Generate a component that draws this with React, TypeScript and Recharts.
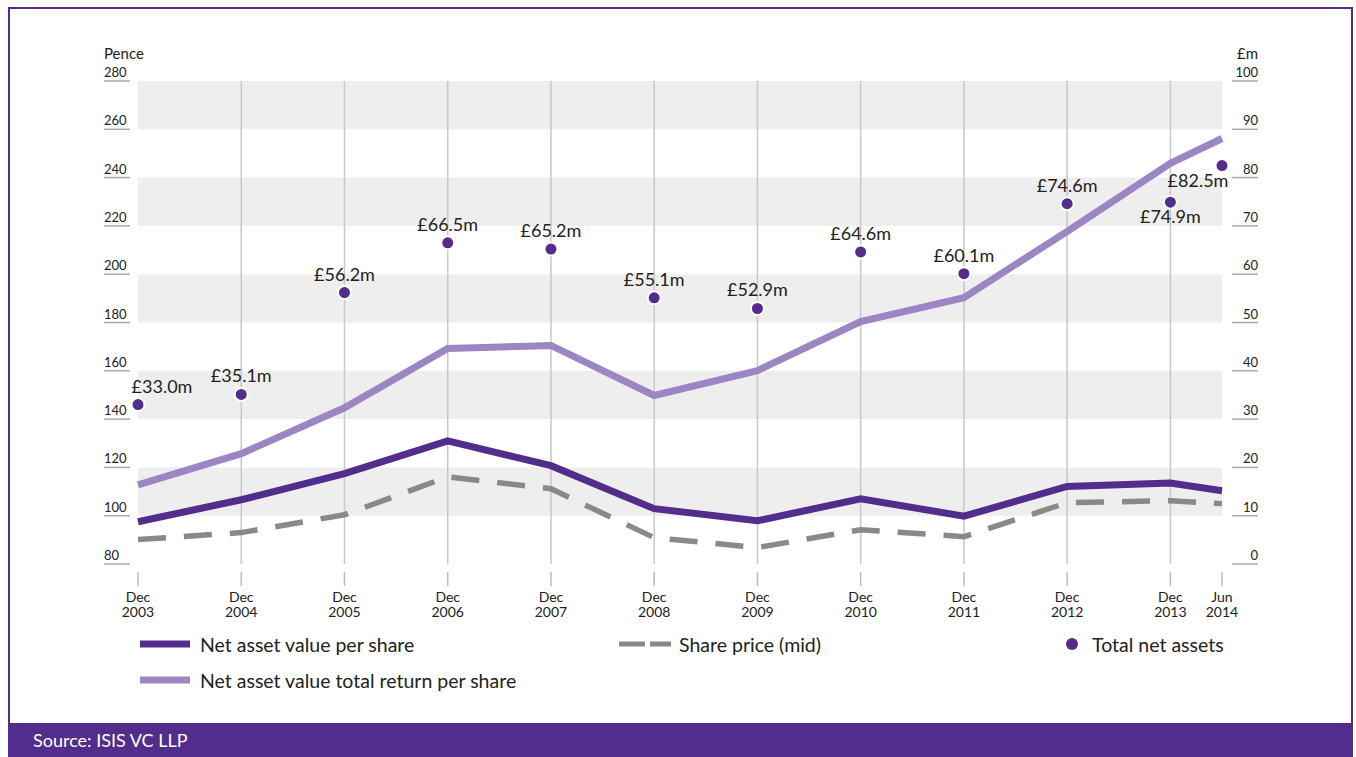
import { ComposedChart, XAxis, YAxis, Line, Scatter, ReferenceArea, ReferenceLine } from "recharts"

// period labels and their position in time (year-end = whole number)
const periods = ["Dec 2003", "Dec 2004", "Dec 2005", "Dec 2006", "Dec 2007", "Dec 2008", "Dec 2009", "Dec 2010", "Dec 2011", "Dec 2012", "Dec 2013", "Jun 2014"]
const periodTimes = [2004, 2005, 2006, 2007, 2008, 2009, 2010, 2011, 2012, 2013, 2014, 2014.5]

// pence
const navPerShare = [97.5, 106.6, 117.4, 131, 120.7, 102.9, 97.9, 107, 99.8, 112.1, 113.5, 110.3]
const navTotalReturn = [112.8, 125.7, 144.7, 169.2, 170.5, 149.8, 160.1, 180.4, 190.3, 217.7, 245.9, 256.2]
const sharePrice = [90.1, 93, 100.4, 116.1, 111.2, 90.9, 86.8, 94.2, 91.3, 105.4, 106.2, 105]
// £m
const totalNetAssets = [33.0, 35.1, 56.2, 66.5, 65.2, 55.1, 52.9, 64.6, 60.1, 74.6, 74.9, 82.5]

const penceTicks = [80, 100, 120, 140, 160, 180, 200, 220, 240, 260, 280]
const millionTicks = [0, 10, 20, 30, 40, 50, 60, 70, 80, 90, 100]
const shadedBands = [[100, 120], [140, 160], [180, 200], [220, 240], [260, 280]]

const DARK = "#532d8c"
const LIGHT = "#9b85c2"
const GREY = "#898989"
const TEXT = "#222"
const FONT = "Lato, 'Open Sans', sans-serif"

const chartData = periods.map((p, i) => ({
    period: p,
    t: periodTimes[i],
    nav: navPerShare[i],
    tr: navTotalReturn[i],
    price: sharePrice[i],
    tna: totalNetAssets[i],
}))

const LeftTick = ({ y, payload }: any) => (
    <g>
        <line x1={94} x2={120} y1={y} y2={y} stroke="#aaa" strokeWidth={1.5} />
        <text x={94} y={y - 4} fontSize={13} fill={TEXT} fontFamily={FONT}>
            {payload.value}
        </text>
    </g>
)

const RightTick = ({ y, payload }: any) => (
    <g>
        <line x1={1222} x2={1248} y1={y} y2={y} stroke="#aaa" strokeWidth={1.5} />
        <text x={1248} y={y - 4} fontSize={13} fill={TEXT} textAnchor="end" fontFamily={FONT}>
            {payload.value}
        </text>
    </g>
)

const TimeTick = ({ x, payload }: any) => {
    const idx = periodTimes.indexOf(payload.value)
    const [month, year] = (periods[idx] ?? "").split(" ")
    return (
        <g>
            <line x1={x} x2={x} y1={563} y2={577} stroke="#bbb" strokeWidth={1.5} />
            <text x={x} y={593} fontSize={14} fill={TEXT} textAnchor="middle" fontFamily={FONT}>
                {month}
            </text>
            <text x={x} y={608} fontSize={14} fill={TEXT} textAnchor="middle" fontFamily={FONT}>
                {year}
            </text>
        </g>
    )
}

// dot + its £m label; a few labels are nudged so they don't collide
const AssetDot = ({ cx, cy, payload }: any) => {
    let dx = 0
    let dy = -12
    if (payload.period === "Dec 2003") dx = 24
    if (payload.period === "Dec 2013") dy = 21
    if (payload.period === "Jun 2014") {
        dx = -24
        dy = 21
    }
    return (
        <g>
            <circle cx={cx} cy={cy} r={6.5} fill={DARK} stroke="#fff" strokeWidth={2} />
            <text x={cx + dx} y={cy + dy} fontSize={18} fill={TEXT} textAnchor="middle" fontFamily={FONT}>
                £{payload.tna.toFixed(1)}m
            </text>
        </g>
    )
}

const legendRow = (top: number, left: number, swatch: any, label: string) => (
    <div
        style={{
            position: "absolute",
            top: top - 12,
            left,
            height: 24,
            display: "flex",
            alignItems: "center",
            fontSize: 19.5,
            color: TEXT,
            fontFamily: FONT,
            whiteSpace: "nowrap",
        }}
    >
        {swatch}
        <span>{label}</span>
    </div>
)

export default function App() {
    return (
        <>
            <style>{"html,body{margin:0;overflow:hidden;}"}</style>
            <div
                style={{
                    position: "relative",
                    margin: "7px 0 0 8px",
                    width: 1345,
                    height: 750,
                    boxSizing: "border-box",
                    borderTop: `2px solid ${DARK}`,
                    borderLeft: `2px solid ${DARK}`,
                    borderRight: `2px solid ${DARK}`,
                    background: "#fff",
                }}
            >
                <div style={{ position: "absolute", left: 0, top: 0 }}>
                    <ComposedChart width={1340} height={620} data={chartData} margin={{ top: 72, right: 0, bottom: 5, left: 0 }}>
                        <XAxis
                            dataKey="t"
                            type="number"
                            domain={["dataMin", "dataMax"]}
                            ticks={periodTimes}
                            interval={0}
                            axisLine={false}
                            tickLine={false}
                            height={60}
                            tick={<TimeTick />}
                        />
                        <YAxis
                            yAxisId="left"
                            domain={[80, 280]}
                            ticks={penceTicks}
                            width={128}
                            axisLine={false}
                            tickLine={false}
                            tick={<LeftTick />}
                        />
                        <YAxis
                            yAxisId="right"
                            orientation="right"
                            domain={[0, 100]}
                            ticks={millionTicks}
                            width={128}
                            axisLine={false}
                            tickLine={false}
                            tick={<RightTick />}
                        />
                        {shadedBands.map(([a, b]) => (
                            <ReferenceArea key={a} yAxisId="left" y1={a} y2={b} fill="#eeeeee" fillOpacity={1} stroke="none" ifOverflow="visible" />
                        ))}
                        {periodTimes.slice(1, -1).map((t) => (
                            <ReferenceLine key={t} yAxisId="left" x={t} stroke="#c8c8c8" strokeWidth={1.5} />
                        ))}
                        <Line yAxisId="left" dataKey="tr" stroke={LIGHT} strokeWidth={7} dot={false} isAnimationActive={false} strokeLinejoin="miter" />
                        <Line yAxisId="left" dataKey="nav" stroke={DARK} strokeWidth={7} dot={false} isAnimationActive={false} strokeLinejoin="miter" />
                        <Line
                            yAxisId="left"
                            dataKey="price"
                            stroke={GREY}
                            strokeWidth={5.5}
                            strokeDasharray="28 18"
                            dot={false}
                            isAnimationActive={false}
                        />
                        <Scatter yAxisId="right" dataKey="tna" shape={<AssetDot />} isAnimationActive={false} />
                    </ComposedChart>
                </div>
                {/* axis captions */}
                <div style={{ position: "absolute", top: 35, left: 94, fontSize: 15, color: TEXT, fontFamily: FONT }}>Pence</div>
                <div style={{ position: "absolute", top: 35, left: 1208, width: 40, textAlign: "right", fontSize: 15, color: TEXT, fontFamily: FONT }}>
                    £m
                </div>

                {legendRow(
                    635,
                    130,
                    <svg width={60} height={10}>
                        <line x1={0} x2={50} y1={5} y2={5} stroke={DARK} strokeWidth={7} />
                    </svg>,
                    "Net asset value per share"
                )}
                {legendRow(
                    671,
                    130,
                    <svg width={60} height={10}>
                        <line x1={0} x2={50} y1={5} y2={5} stroke={LIGHT} strokeWidth={7} />
                    </svg>,
                    "Net asset value total return per share"
                )}
                {legendRow(
                    635,
                    609,
                    <svg width={60} height={10}>
                        <line x1={0} x2={52} y1={5} y2={5} stroke={GREY} strokeWidth={5} strokeDasharray="26 5" />
                    </svg>,
                    "Share price (mid)"
                )}
                {legendRow(
                    635,
                    1055,
                    <svg width={27} height={14}>
                        <circle cx={7} cy={7} r={6} fill={DARK} />
                    </svg>,
                    "Total net assets"
                )}

                <div
                    style={{
                        position: "absolute",
                        left: -2,
                        right: -2,
                        bottom: 0,
                        height: 34,
                        lineHeight: "34px",
                        background: DARK,
                        color: "#fff",
                        fontSize: 18,
                        paddingLeft: 25,
                        fontFamily: FONT,
                    }}
                >
                    Source: ISIS VC LLP
                </div>
            </div>
        </>
    )
}
